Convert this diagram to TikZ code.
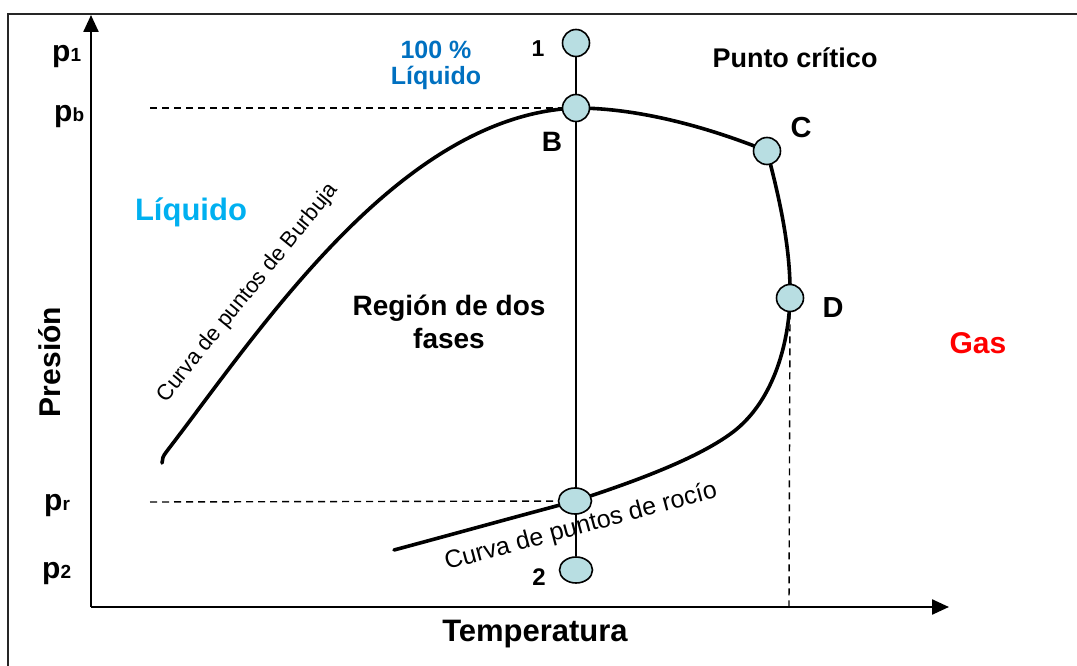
\documentclass[tikz,border=0pt]{standalone}
\usepackage{fontspec}
\setmainfont{Liberation Sans}
\usetikzlibrary{arrows.meta,shapes.geometric}
\pgfdeclarelayer{bg}
\pgfsetlayers{bg,main}
\newcommand\myfs[1]{\fontsize{#1}{#1}\selectfont}
\definecolor{ptfill}{RGB}{184,222,226}
\definecolor{blueA}{RGB}{0,112,192}
\definecolor{cyanA}{RGB}{0,176,240}
\tikzset{
  pt/.style={circle,draw,fill=ptfill,line width=1.6,minimum size=27,inner sep=0},
  ptell/.style={ellipse,draw,fill=ptfill,line width=1.6,minimum width=33,minimum height=26,inner sep=0},
  curve/.style={line width=3.6,line cap=round},
  axis/.style={line width=2.4,-{Triangle[length=17,width=15]}},
  dsh/.style={line width=1.4,dash pattern=on 7 off 5},
  thin/.style={line width=1.5},
  lab/.style={font=\bfseries,inner sep=0},
  rot/.style={inner sep=0}
}
\begin{document}
\begin{tikzpicture}[x=1pt,y=-1pt]
\useasboundingbox (0,0) rectangle (1077,666);
\clip (0,0) rectangle (1077,666);
% frame
\coordinate (f1) at (8,700);
\coordinate (f2) at (8,14);
\coordinate (f3) at (1100,14);
\draw[line width=2,black!85] (f1) -- (f2) -- (f3);
% axes
\coordinate (O) at (91,607);
\coordinate (Ytip) at (91,15);
\coordinate (Xtip) at (949,607);
\draw[axis] (O) -- (Ytip);
\draw[axis] (O) -- (Xtip);
% points
\node[pt] (P1) at (576,43) {};
\node[pt] (B) at (576,108) {};
\node[pt] (C) at (767,151) {};
\node[pt] (D) at (790,298) {};
\node[ptell] (R) at (575,501) {};
\node[ptell] (P2) at (576,570) {};
\coordinate (s0) at (162,463);
\coordinate (s1) at (167,451);
\coordinate (s2) at (394,550);
\coordinate (k1) at (733,432);
\coordinate (pbs) at (150,108);
\coordinate (prs) at (150,502);
\coordinate (Dx) at (789,606);
\begin{pgfonlayer}{bg}
\draw[thin] (P1) -- (P2);
\draw[dsh] (pbs) -- (B);
\draw[dsh] (prs) -- (R);
\draw[dsh] (D.south) -- (Dx);
\draw[curve] (s0) .. controls (162,459) and (163,456) .. (s1)
  .. controls (260,330) and (400,115) .. (B.center)
  .. controls (640,108) and (710,128) .. (C.center)
  .. controls (780,200) and (791,250) .. (D.center)
  .. controls (789,340) and (775,400) .. (k1)
  .. controls (700,457) and (640,480) .. (R.center)
  .. controls (500,521) and (450,535) .. (s2);
\end{pgfonlayer}
% axis tick labels
\node[lab,anchor=base west] (lp1) at (52,62) {\myfs{30}p\myfs{19}1};
\node[lab,anchor=base west] (lpb) at (54,122) {\myfs{30}p\myfs{19}b};
\node[lab,anchor=base west] (lpr) at (44,510) {\myfs{30}p\myfs{19}r};
\node[lab,anchor=base west] (lp2) at (42,578) {\myfs{30}p\myfs{19}2};
% point labels
\node[lab] (l1) at (538,49) {\myfs{23}1};
\node[lab] (lB) at (552,142) {\myfs{28}B};
\node[lab] (lC) at (801,128) {\myfs{29}C};
\node[lab] (lD) at (833,308) {\myfs{29}D};
\node[lab] (l2) at (539,577) {\myfs{24}2};
% region labels
\node[lab,anchor=base,text=blueA] (t100) at (436,59) {\myfs{25}100 \%};
\node[lab,anchor=base,text=blueA] (tliq1) at (436,85) {\myfs{25}Líquido};
\node[lab,anchor=base] (tpc) at (795,68) {\myfs{27}Punto crítico};
\node[lab,anchor=base,text=cyanA] (tliq) at (191,221) {\myfs{31}Líquido};
\node[lab,anchor=base] (treg1) at (449,315) {\myfs{28}Región de dos};
\node[lab,anchor=base] (treg2) at (449,348) {\myfs{28}fases};
\node[lab,text=red] (tgas) at (978,343) {\myfs{30}Gas};
\node[lab,anchor=base] (ttemp) at (535,641) {\myfs{31}Temperatura};
\node[lab,anchor=base,rotate=90] (tpres) at (60,362) {\myfs{30}Presión};
% curve labels
\node[rot,rotate=51] (tburb) at (248,293) {\myfs{22}Curva de puntos de Burbuja};
\node[rot,rotate=15] (troc) at (581,527) {\myfs{25}Curva de puntos de rocío};
\end{tikzpicture}
\end{document}
